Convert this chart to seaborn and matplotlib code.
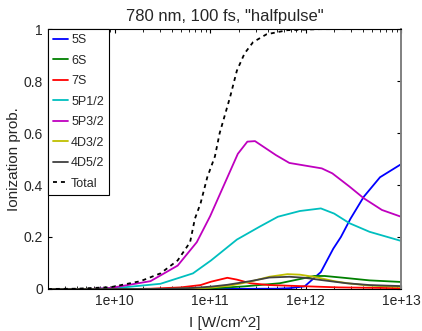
import numpy as np
import pandas as pd
import matplotlib
matplotlib.use("Agg")
import matplotlib.pyplot as plt
from matplotlib.ticker import LogLocator, NullFormatter
import seaborn as sns

# log10 of intensity (W/cm^2) and probabilities
x_5s = [9.3, 10.0, 11.0, 11.7, 11.83, 11.99, 12.16, 12.29, 12.37, 12.47, 12.61, 12.78, 13.0]
y_5s = [0.0, 0.0, 0.0, 0.001, 0.003, 0.01, 0.065, 0.155, 0.2, 0.27, 0.355, 0.43, 0.48]

x_6s = [9.3, 10.5, 10.69, 11.1, 11.36, 11.73, 11.94, 12.09, 12.2, 12.4, 12.67, 13.0]
y_6s = [0.0, 0.0, 0.001, 0.004, 0.01, 0.022, 0.038, 0.05, 0.05, 0.043, 0.033, 0.027]

x_7s = [9.3, 10.2, 10.375, 10.69, 10.9, 11.01, 11.18, 11.28, 11.42, 11.62, 11.94, 12.35, 13.0]
y_7s = [0.0, 0.0, 0.001, 0.006, 0.015, 0.028, 0.043, 0.036, 0.022, 0.015, 0.011, 0.006, 0.003]

x_5p12 = [9.3, 9.8, 10.06, 10.48, 10.82, 11.01, 11.28, 11.52, 11.71, 11.94, 12.16, 12.3, 12.46, 12.67, 13.0]
y_5p12 = [0.0, 0.0, 0.005, 0.02, 0.06, 0.11, 0.19, 0.24, 0.278, 0.30, 0.31, 0.29, 0.253, 0.22, 0.185]

x_5p32 = [9.3, 9.75, 9.96, 10.375, 10.66, 10.86, 11.0, 11.29, 11.39, 11.47, 11.69, 11.83, 12.17, 12.28, 12.46, 12.61, 12.8, 13.0]
y_5p32 = [0.0, 0.0, 0.004, 0.03, 0.09, 0.18, 0.28, 0.52, 0.567, 0.569, 0.515, 0.485, 0.464, 0.445, 0.394, 0.349, 0.304, 0.278]

x_4d32 = [9.3, 10.5, 10.69, 11.0, 11.21, 11.42, 11.62, 11.81, 11.94, 12.1, 12.3, 12.46, 12.67, 13.0]
y_4d32 = [0.0, 0.0, 0.001, 0.005, 0.013, 0.028, 0.047, 0.057, 0.055, 0.046, 0.03, 0.021, 0.013, 0.008]

x_4d52 = [9.3, 10.4, 10.59, 10.82, 11.01, 11.18, 11.42, 11.62, 11.83, 11.99, 12.15, 12.43, 12.67, 13.0]
y_4d52 = [0.0, 0.0, 0.001, 0.004, 0.009, 0.016, 0.03, 0.044, 0.047, 0.043, 0.035, 0.022, 0.015, 0.011]

x_total = [9.3, 9.6, 9.96, 10.27, 10.48, 10.66, 10.79, 10.84, 10.9, 10.97, 11.05, 11.1, 11.21, 11.28, 11.36, 11.45, 11.59, 11.81, 12.15, 13.0]
y_total = [0.0, 0.001, 0.007, 0.03, 0.06, 0.11, 0.18, 0.27, 0.33, 0.43, 0.51, 0.60, 0.74, 0.84, 0.906, 0.95, 0.98, 0.996, 1.0, 1.0]

labels = ["5S", "6S", "7S", "5P1/2", "5P3/2", "4D3/2", "4D5/2", "Total"]
colors = ["#0000ff", "#008000", "#ff0000", "#00bfbf", "#bf00bf", "#bfbf00", "#404040", "black"]
xs = [x_5s, x_6s, x_7s, x_5p12, x_5p32, x_4d32, x_4d52, x_total]
ys = [y_5s, y_6s, y_7s, y_5p12, y_5p32, y_4d32, y_4d52, y_total]

sns.set_style("ticks")
plt.rcParams['font.family'] = ['Liberation Sans', 'DejaVu Sans']
plt.rcParams.update({'font.size': 10})

fig = plt.figure(figsize=(4.22, 3.31), dpi=100)
ax = fig.add_axes([0.1137, 0.127, 0.8366, 0.785])

for lab, col, x, y in zip(labels, colors, xs, ys):
    df = pd.DataFrame({"I": 10.0 ** np.array(x), "p": y})
    ls = (0, (2.2, 2.2)) if lab == "Total" else "-"
    sns.lineplot(data=df, x="I", y="p", ax=ax, color=col, lw=1.3,
                 linestyle=ls, label=lab, estimator=None, sort=False)

ax.set_xscale('log')
ax.set_xlim(2e9, 1e13)
ax.set_ylim(0, 1)
ax.set_xticks([1e10, 1e11, 1e12, 1e13])
ax.set_xticklabels(["1e+10", "1e+11", "1e+12", "1e+13"])
ax.xaxis.set_minor_locator(LogLocator(base=10, subs=np.arange(2, 10), numticks=20))
ax.xaxis.set_minor_formatter(NullFormatter())
ax.set_yticks([0, 0.2, 0.4, 0.6, 0.8, 1])
ax.set_yticklabels(["0", "0.2", "0.4", "0.6", "0.8", "1"])
ax.tick_params(which='both', direction='in', top=True, right=True, labelsize=10,
               color='black')
ax.tick_params(which='major', length=3, width=0.8)
ax.tick_params(which='minor', length=2, width=0.6)
for s in ax.spines.values():
    s.set_color('black')
    s.set_linewidth(0.8)
ax.spines['right'].set_color('#808080')
ax.spines['right'].set_linewidth(1.4)

ax.set_title('780 nm, 100 fs, "halfpulse"', fontsize=12, pad=6)
ax.set_xlabel("I [W/cm^2]", fontsize=11, labelpad=6)
ax.set_ylabel("Ionization prob.", fontsize=11, labelpad=2)

leg = ax.legend(loc='upper left', borderaxespad=0, fancybox=False, framealpha=1,
                edgecolor='black', fontsize=9, handlelength=1.2, handletextpad=0.25,
                labelspacing=0.68, borderpad=0.4)
leg.get_frame().set_linewidth(0.8)

fig.savefig("out.png", dpi=100)
